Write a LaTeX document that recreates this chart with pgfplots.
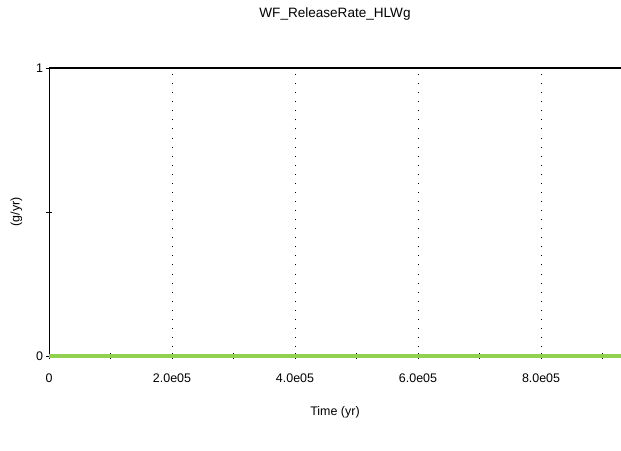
\documentclass[border=0pt]{standalone}
\usepackage{pgfplots}
\pgfplotsset{compat=1.18}
\usepackage{fontspec}
\setmainfont{Liberation Sans}
\definecolor{lgreen}{RGB}{146,208,80}
\begin{document}
\begin{tikzpicture}
\useasboundingbox (-49bp,-95bp) rectangle (572bp,356bp);
\begin{axis}[
  at={(0,0)}, anchor=south west,
  scale only axis, width=572bp, height=288bp,
  xmin=0, xmax=9.3e5, ymin=0, ymax=1,
  axis x line*=bottom, axis y line*=left,
  x axis line style={-, black}, y axis line style={-, black, line width=0.8pt},
  xtick={0,2e5,4e5,6e5,8e5},
  xticklabels={0,2.0e05,4.0e05,6.0e05,8.0e05},
  minor xtick={1e5,3e5,5e5,7e5,9e5},
  ytick={0,0.5,1}, yticklabels={0,,1},
  scaled x ticks=false,
  tick align=center,
  major tick length=5bp, minor tick length=5bp,
  tick style={black, line width=0.6pt},
  every tick label/.append style={font=\fontsize{12.5}{14}\selectfont},
  /pgf/number format/assume math mode=true,
  xticklabel style={yshift=-12bp},
  yticklabel style={xshift=0bp},
  title={WF\_ReleaseRate\_HLWg},
  title style={font=\fontsize{13.6}{15}\selectfont, at={(0.5,1)}, yshift=38bp},
  xlabel={Time (yr)}, ylabel={(g/yr)},
  label style={font=\fontsize{12.5}{14}\selectfont},
  xlabel style={yshift=-17bp},
  ylabel style={yshift=7bp},
  clip=false,
]
\draw[black, line width=1.4pt] (axis cs:0,1) -- (axis cs:9.3e5,1);
\foreach \xx in {2e5,4e5,6e5,8e5} {
  \edef\tmp{\noexpand\draw[black, line width=0.9pt, dash pattern=on 0.9pt off 8.2pt] (axis cs:\xx,0) -- (axis cs:\xx,1);}
  \tmp
}
\addplot[lgreen, line width=3.2pt] coordinates {(0,0) (1e5,0) (2e5,0) (3e5,0) (4e5,0) (5e5,0) (6e5,0) (7e5,0) (8e5,0) (9e5,0) (9.3e5,0)};
\end{axis}
\end{tikzpicture}
\end{document}
